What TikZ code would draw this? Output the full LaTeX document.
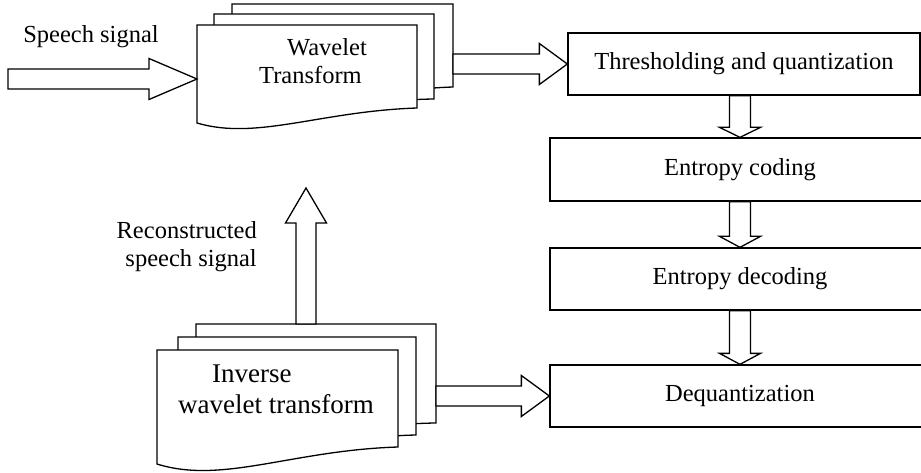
\documentclass[tikz,border=0pt]{standalone}
\usepackage{fontspec}
\setmainfont{Liberation Serif}
\usetikzlibrary{calc}
\newcommand{\wavedoc}[5]{% x, y, width, left height, right height
	\filldraw[doc] (#1,#2) -- ({#1+#3},#2) -- ({#1+#3},{#2+#5})
		.. controls ({#1+0.56*#3},{#2+0.88*#4}) and ({#1+0.27*#3},{#2+1.18*#4}) .. (#1,{#2+#4}) -- cycle;}
\begin{document}
\begin{tikzpicture}[x=1pt,y=-1pt,line join=miter,font=\fontsize{24.5}{28}\selectfont,
	doc/.style={draw=black,fill=white,line width=1.3pt},
	blk/.style={draw,line width=1.3pt,inner sep=0pt,minimum height=62pt},
	fat/.style={draw=black,fill=white,line width=1.3pt},
	harrow/.style={to path={let \p1=(\tikztostart),\p2=(\tikztotarget) in
		(\x1,\y2+10pt) -- (\x2-#1pt,\y2+10pt) -- (\x2-#1pt,\y2+20.5pt) -- (\x2,\y2)
		-- (\x2-#1pt,\y2-20.5pt) -- (\x2-#1pt,\y2-10pt) -- (\x1,\y2-10pt) -- cycle}},
	darrow/.style={to path={let \p1=(\tikztostart),\p2=(\tikztotarget) in
		(\x2-10.5pt,\y1) -- (\x2-10.5pt,\y2+#1pt) -- (\x2-20.5pt,\y2+#1pt) -- (\x2,\y2)
		-- (\x2+20.5pt,\y2+#1pt) -- (\x2+10.5pt,\y2+#1pt) -- (\x2+10.5pt,\y1) -- cycle}},
	uarrow/.style={to path={let \p1=(\tikztostart),\p2=(\tikztotarget) in
		(\x2-10pt,\y1) -- (\x2-10pt,\y2-#1pt) -- (\x2-20.5pt,\y2-#1pt) -- (\x2,\y2)
		-- (\x2+20.5pt,\y2-#1pt) -- (\x2+10pt,\y2-#1pt) -- (\x2+10pt,\y1) -- cycle}}]
	\useasboundingbox (0,0) rectangle (921,473);
	\clip (0,0) rectangle (921,473);
	% wavelet transform stack
	\wavedoc{232}{4}{221}{98}{83}
	\wavedoc{214}{14}{220}{98}{85}
	\wavedoc{197}{25}{220}{98}{83}
	\node[anchor=west,align=left,inner sep=0pt] (wt) at (259,61) {\hspace{28pt}Wavelet\\Transform};
	% inverse transform stack
	\wavedoc{196}{324}{240}{114}{99}
	\wavedoc{178}{337}{238}{114}{98}
	\wavedoc{157}{350}{241}{114}{97}
	\node[anchor=west,align=left,inner sep=0pt,font=\fontsize{27}{31}\selectfont] (iwt) at (178,389) {\hspace{34pt}Inverse\\wavelet transform};
	% blocks
	\node[blk,minimum width=352pt] (thr) at (744,64) {Thresholding and quantization};
	\node[blk,minimum width=380pt,minimum height=63pt] (enc) at (740,169.5) {Entropy coding};
	\node[blk,minimum width=380pt] (dec) at (740,279) {Entropy decoding};
	\node[blk,minimum width=380pt] (deq) at (740,396) {Dequantization};
	% labels
	\node (sig) at (91,37) {Speech signal};
	\node[anchor=east,align=right,inner sep=0pt] (rsig) at (257,247) {Reconstructed\\speech signal};
	% end points
	\coordinate (sin) at (8,79);
	\coordinate (wtin) at (197,79);
	\coordinate (wtout) at (453,64);
	\coordinate (iwtout) at (436,398);
	\coordinate (iwtup) at (306,324);
	\coordinate (rout) at (306,188);
	% arrows
	\draw[fat] (sin) to[harrow=48] (wtin);
	\draw[fat] (wtout) to[harrow=28] (thr.west);
	\draw[fat] (enc.north |- thr.south) to[darrow=10] (enc.north);
	\draw[fat] (dec.north |- enc.south) to[darrow=11] (dec.north);
	\draw[fat] (deq.north |- dec.south) to[darrow=11] (deq.north);
	\draw[fat] (iwtout) to[harrow=28] (deq.west);
	\draw[fat] (iwtup) to[uarrow=35] (rout);
\end{tikzpicture}
\end{document}
